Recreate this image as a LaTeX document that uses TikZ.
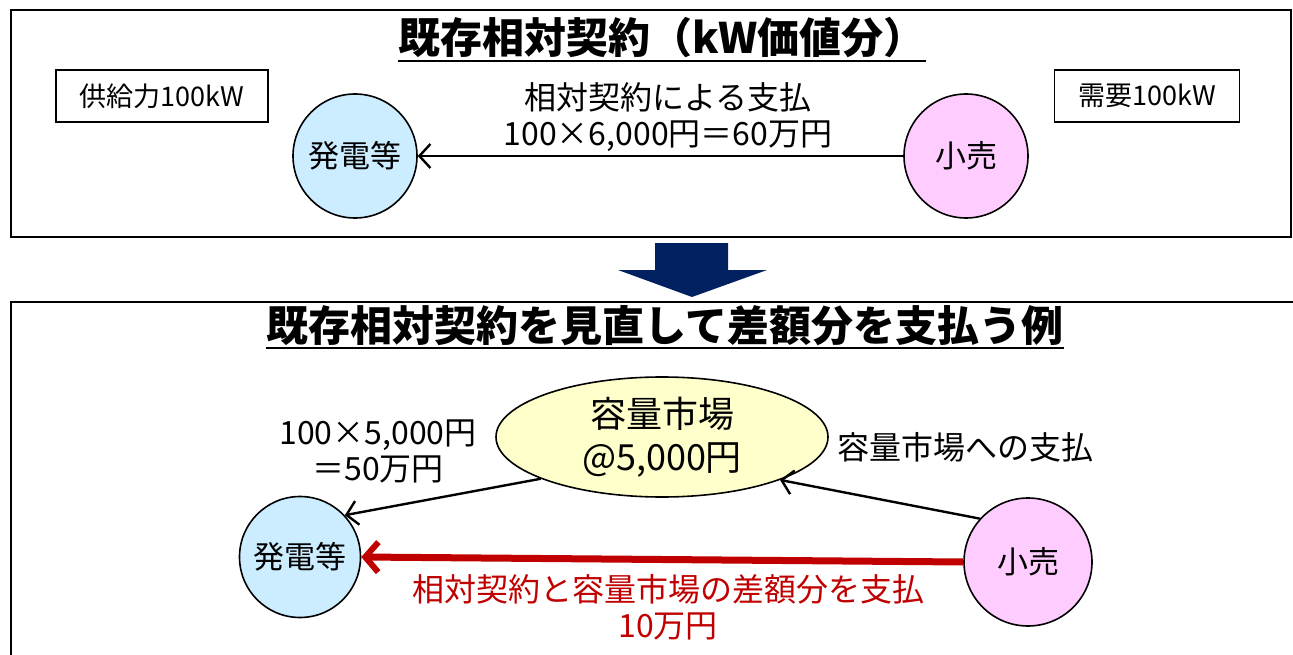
\documentclass[tikz,border=0pt]{standalone}
\usepackage{fontspec}
\setmainfont{Noto Sans CJK JP}
\usetikzlibrary{shapes.geometric,arrows.meta}
\definecolor{genblue}{RGB}{204,236,255}
\definecolor{retpink}{RGB}{255,204,255}
\definecolor{mktyellow}{RGB}{255,255,204}
\definecolor{navy}{RGB}{0,32,96}
\definecolor{darkred}{RGB}{192,0,0}
\tikzset{
  frame/.style={draw=black,line width=2pt},
  ttl/.style={font=\fontsize{42}{48}\selectfont\bfseries,inner sep=0pt,anchor=base},
  uline/.style={draw=black,line width=2.4pt},
  infobox/.style={draw=black,line width=1.8pt,inner sep=0pt,font=\fontsize{27}{32}\selectfont},
  party/.style={circle,draw=black,line width=1.6pt,minimum size=124pt,inner sep=0pt,font=\fontsize{31}{36}\selectfont},
  market/.style={ellipse,draw=black,line width=1.6pt,minimum width=332pt,minimum height=120pt,inner sep=0pt,fill=mktyellow,font=\fontsize{36}{43}\selectfont,align=center},
  lbl/.style={font=\fontsize{32}{36}\selectfont,align=center,inner sep=0pt},
  pay/.style={draw=black,line width=2.4pt,-{Straight Barb[length=11pt,width=24pt,line width=2.4pt]}},
  redpay/.style={draw=darkred,line width=7pt,-{Straight Barb[length=13pt,width=30pt,line width=6pt]}},
}
\begin{document}
\begin{tikzpicture}[x=1pt,y=-1pt]
\useasboundingbox (0,0) rectangle (1293,655);
\clip (0,0) rectangle (1293,655);
% top frame
\draw[frame] (11,10) rectangle (1291,237);
\node[ttl] (t1) at (662,54) {既存相対契約（kW価値分）};
\draw[uline] (t1.base west |- 0,61) -- (t1.base east |- 0,61);
\node[infobox,minimum width=212pt,minimum height=52pt] (sup) at (162,96) {供給力100kW};
\node[infobox,minimum width=185pt,minimum height=52pt] (dem) at (1147,96) {需要100kW};
\node[party,fill=genblue] (g1) at (355,156) {発電等};
\node[party,fill=retpink] (r1) at (966,156) {小売};
\draw[pay] (r1.west) -- (g1.east);
\node[lbl] (l1) at (668,117) {相対契約による支払\\100×6,000円＝60万円};
% big arrow
\fill[navy] (655,243) -- (728,243) -- (728,270) -- (767,270) -- (692,297) -- (618,270) -- (655,270) -- cycle;
% bottom frame
\draw[frame] (11,302) rectangle (1300,700);
\node[ttl] (t2) at (665,341) {既存相対契約を見直して差額分を支払う例};
\draw[uline] (t2.base west |- 0,348) -- (t2.base east |- 0,348);
\node[market] (m) at (662,437) {容量市場\\@5,000円};
\node[party,fill=genblue,minimum size=121pt] (g2) at (300,557) {発電等};
\node[party,fill=retpink,minimum size=128pt] (r2) at (1028,562) {小売};
\draw[pay] (m.199) -- (g2.43);
\draw[pay] (r2.138) -- (m.340);
\draw[redpay] (r2.west) -- (g2.east);
\node[lbl] (l2) at (378,451) {100×5,000円\\＝50万円};
\node[lbl] (l3) at (965,447) {容量市場への支払};
\node[lbl,text=darkred] (l4) at (668,607) {相対契約と容量市場の差額分を支払\\10万円};
\end{tikzpicture}
\end{document}
